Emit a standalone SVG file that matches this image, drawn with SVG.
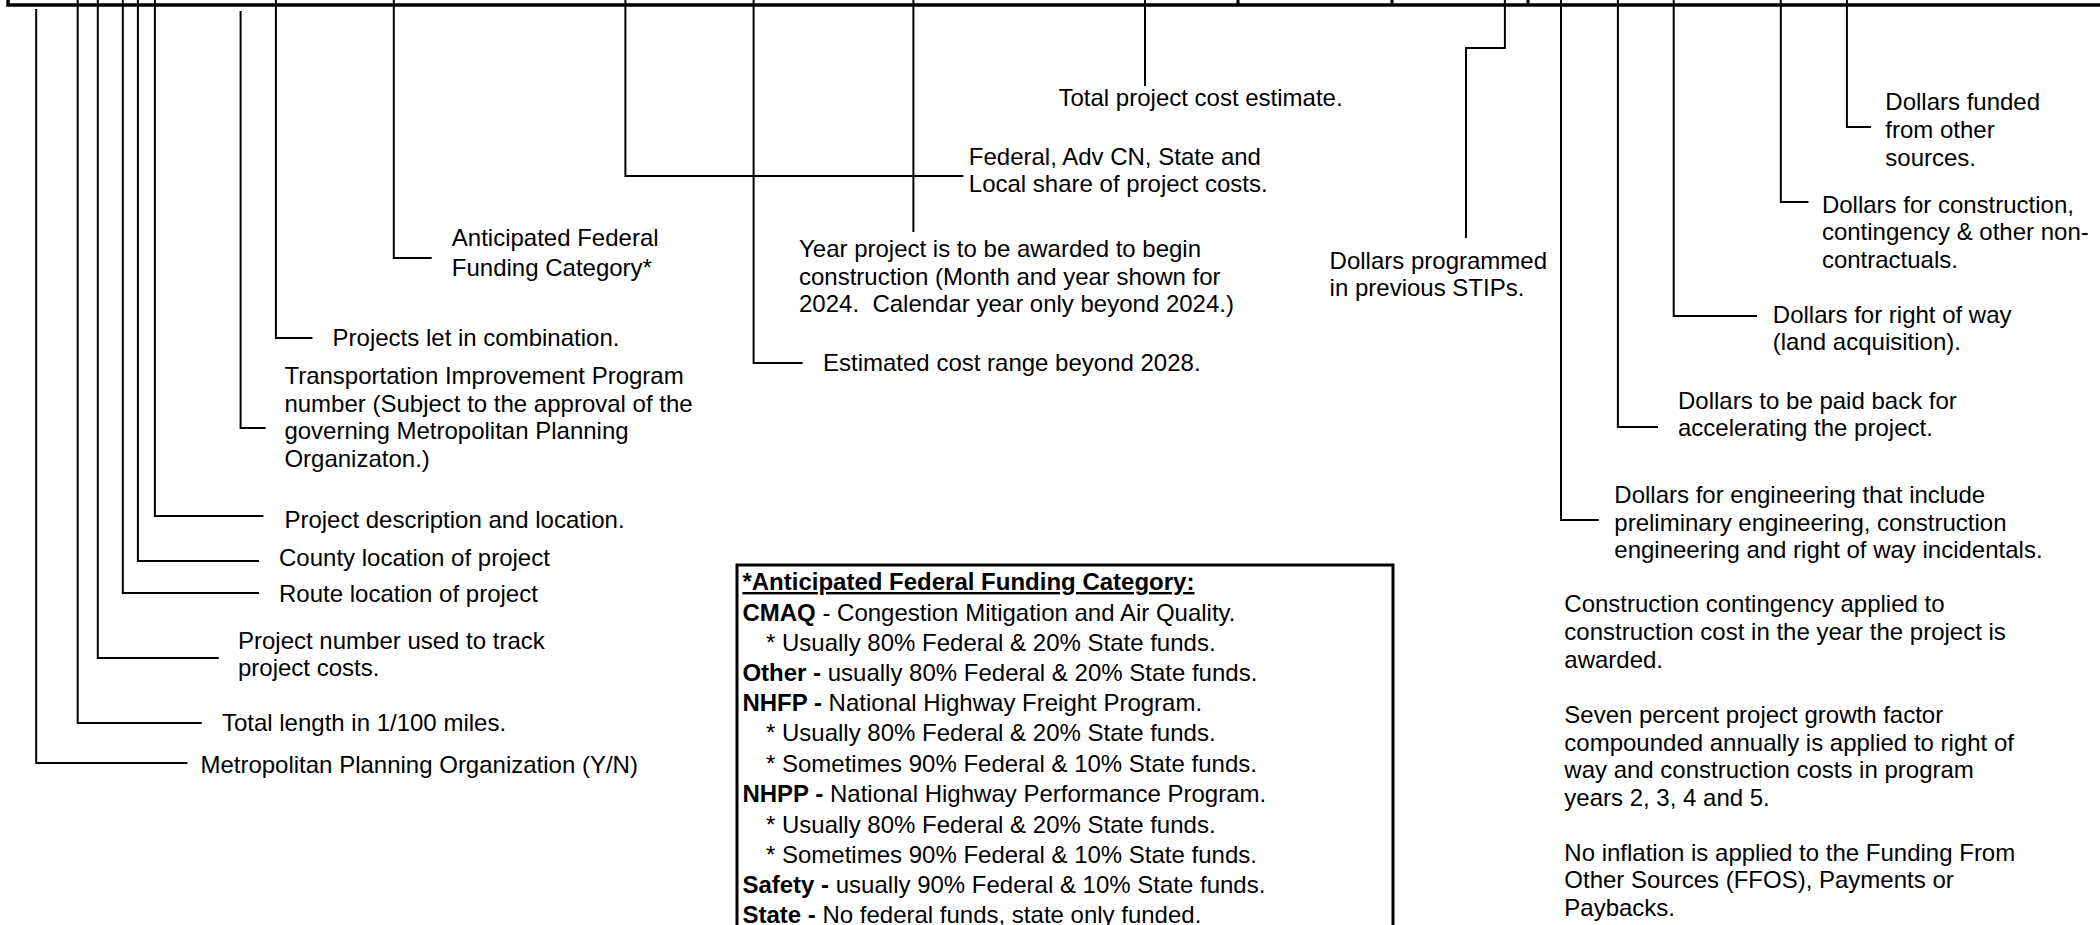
<svg xmlns="http://www.w3.org/2000/svg" width="2100" height="925" viewBox="0 0 2100 925">
<style>
.t{font-family:"Liberation Sans",Arial,sans-serif;font-size:24px;fill:#000}
.b{font-weight:bold}
.u{text-decoration:underline}
.lead{stroke:#000;stroke-width:2;fill:none}
.frame{stroke:#000;stroke-width:3.5;fill:none}
.div{stroke:#000;stroke-width:3;fill:none}
.box{stroke:#000;stroke-width:3;fill:#fff}
</style>
<rect width="2100" height="925" fill="#fff"/>
<g id="header-frame">
<path class="frame" d="M8 0 V5 H2100"/>
<path class="div" d="M1238 0 V5 M1392 0 V5 M1528 0 V5"/>
</g>
<g id="connectors">
<path class="lead" d="M36.2 9 V763 H187.5"/>
<path class="lead" d="M77.7 0 V723 H201.8"/>
<path class="lead" d="M97.8 0 V658 H218.8"/>
<path class="lead" d="M122.8 0 V593 H259"/>
<path class="lead" d="M137.9 0 V561 H259"/>
<path class="lead" d="M154.9 0 V516 H263.4"/>
<path class="lead" d="M240.6 11 V428 H265.6"/>
<path class="lead" d="M275.9 0 V338 H312.5"/>
<path class="lead" d="M393.8 0 V258 H431.7"/>
<path class="lead" d="M625.4 0 V176 H963.4"/>
<path class="lead" d="M753.6 0 V363 H802.7"/>
<path class="lead" d="M913.4 0 V232"/>
<path class="lead" d="M1145 0 V86"/>
<path class="lead" d="M1504.9 0 V48 H1466 V238"/>
<path class="lead" d="M1561 0 V520 H1598.7"/>
<path class="lead" d="M1617.9 0 V427 H1658"/>
<path class="lead" d="M1673.7 0 V316 H1757"/>
<path class="lead" d="M1780.8 0 V202 H1808.5"/>
<path class="lead" d="M1846.9 0 V127 H1871"/>
</g>
<g id="mpo"><text class="t" x="200.4" y="773">Metropolitan Planning Organization (Y/N)</text></g>
<g id="length"><text class="t" x="221.9" y="731">Total length in 1/100 miles.</text></g>
<g id="project-number"><text class="t"><tspan x="238" y="649">Project number used to track</tspan><tspan x="238" y="676">project costs.</tspan></text></g>
<g id="route"><text class="t" x="279" y="602">Route location of project</text></g>
<g id="county"><text class="t" x="279" y="566">County location of project</text></g>
<g id="description"><text class="t" x="284.4" y="528">Project description and location.</text></g>
<g id="tip"><text class="t"><tspan x="284.4" y="384">Transportation Improvement Program</tspan><tspan x="284.4" y="412">number (Subject to the approval of the</tspan><tspan x="284.4" y="439">governing Metropolitan Planning</tspan><tspan x="284.4" y="467">Organizaton.)</tspan></text></g>
<g id="combination"><text class="t" x="332.6" y="346">Projects let in combination.</text></g>
<g id="funding-category"><text class="t"><tspan x="451.8" y="246">Anticipated Federal</tspan><tspan x="451.8" y="276">Funding Category*</tspan></text></g>
<g id="shares"><text class="t"><tspan x="968.8" y="165">Federal, Adv CN, State and</tspan><tspan x="968.8" y="192">Local share of project costs.</tspan></text></g>
<g id="estimated-cost"><text class="t" x="823" y="371">Estimated cost range beyond 2028.</text></g>
<g id="award-year"><text class="t" xml:space="preserve"><tspan x="799" y="257">Year project is to be awarded to begin</tspan><tspan x="799" y="285">construction (Month and year shown for</tspan><tspan x="799" y="312">2024.  Calendar year only beyond 2024.)</tspan></text></g>
<g id="total-cost"><text class="t" x="1058.5" y="106">Total project cost estimate.</text></g>
<g id="previous-stips"><text class="t"><tspan x="1329.6" y="269">Dollars programmed</tspan><tspan x="1329.6" y="296">in previous STIPs.</tspan></text></g>
<g id="engineering"><text class="t"><tspan x="1614.3" y="503">Dollars for engineering that include</tspan><tspan x="1614.3" y="531">preliminary engineering, construction</tspan><tspan x="1614.3" y="558">engineering and right of way incidentals.</tspan></text></g>
<g id="payback"><text class="t"><tspan x="1678" y="409">Dollars to be paid back for</tspan><tspan x="1678" y="436">accelerating the project.</tspan></text></g>
<g id="right-of-way"><text class="t"><tspan x="1772.8" y="323">Dollars for right of way</tspan><tspan x="1772.8" y="350">(land acquisition).</tspan></text></g>
<g id="construction"><text class="t"><tspan x="1821.9" y="213">Dollars for construction,</tspan><tspan x="1821.9" y="240">contingency &amp; other non-</tspan><tspan x="1821.9" y="268">contractuals.</tspan></text></g>
<g id="other-sources"><text class="t"><tspan x="1885.3" y="110">Dollars funded</tspan><tspan x="1885.3" y="138">from other</tspan><tspan x="1885.3" y="166">sources.</tspan></text></g>
<g id="notes"><text class="t"><tspan x="1564.3" y="612">Construction contingency applied to</tspan><tspan x="1564.3" y="640">construction cost in the year the project is</tspan><tspan x="1564.3" y="668">awarded.</tspan><tspan x="1564.3" y="723">Seven percent project growth factor</tspan><tspan x="1564.3" y="751">compounded annually is applied to right of</tspan><tspan x="1564.3" y="778">way and construction costs in program</tspan><tspan x="1564.3" y="806">years 2, 3, 4 and 5.</tspan><tspan x="1564.3" y="861">No inflation is applied to the Funding From</tspan><tspan x="1564.3" y="888">Other Sources (FFOS), Payments or</tspan><tspan x="1564.3" y="916">Paybacks.</tspan></text></g>
<g id="legend">
<rect class="box" x="737" y="565" width="656" height="400"/>
<text class="t b u" x="742.4" y="590">*Anticipated Federal Funding Category:</text>
<text class="t" x="742.4" y="621"><tspan class="b">CMAQ</tspan> - Congestion Mitigation and Air Quality.</text>
<text class="t" x="766" y="651">* Usually 80% Federal &amp; 20% State funds.</text>
<text class="t" x="742.4" y="681"><tspan class="b">Other -</tspan> usually 80% Federal &amp; 20% State funds.</text>
<text class="t" x="742.4" y="711"><tspan class="b">NHFP -</tspan> National Highway Freight Program.</text>
<text class="t" x="766" y="741">* Usually 80% Federal &amp; 20% State funds.</text>
<text class="t" x="766" y="772">* Sometimes 90% Federal &amp; 10% State funds.</text>
<text class="t" x="742.4" y="802"><tspan class="b">NHPP -</tspan> National Highway Performance Program.</text>
<text class="t" x="766" y="833">* Usually 80% Federal &amp; 20% State funds.</text>
<text class="t" x="766" y="863">* Sometimes 90% Federal &amp; 10% State funds.</text>
<text class="t" x="742.4" y="893"><tspan class="b">Safety -</tspan> usually 90% Federal &amp; 10% State funds.</text>
<text class="t" x="742.4" y="923"><tspan class="b">State -</tspan> No federal funds, state only funded.</text>
</g>
</svg>
